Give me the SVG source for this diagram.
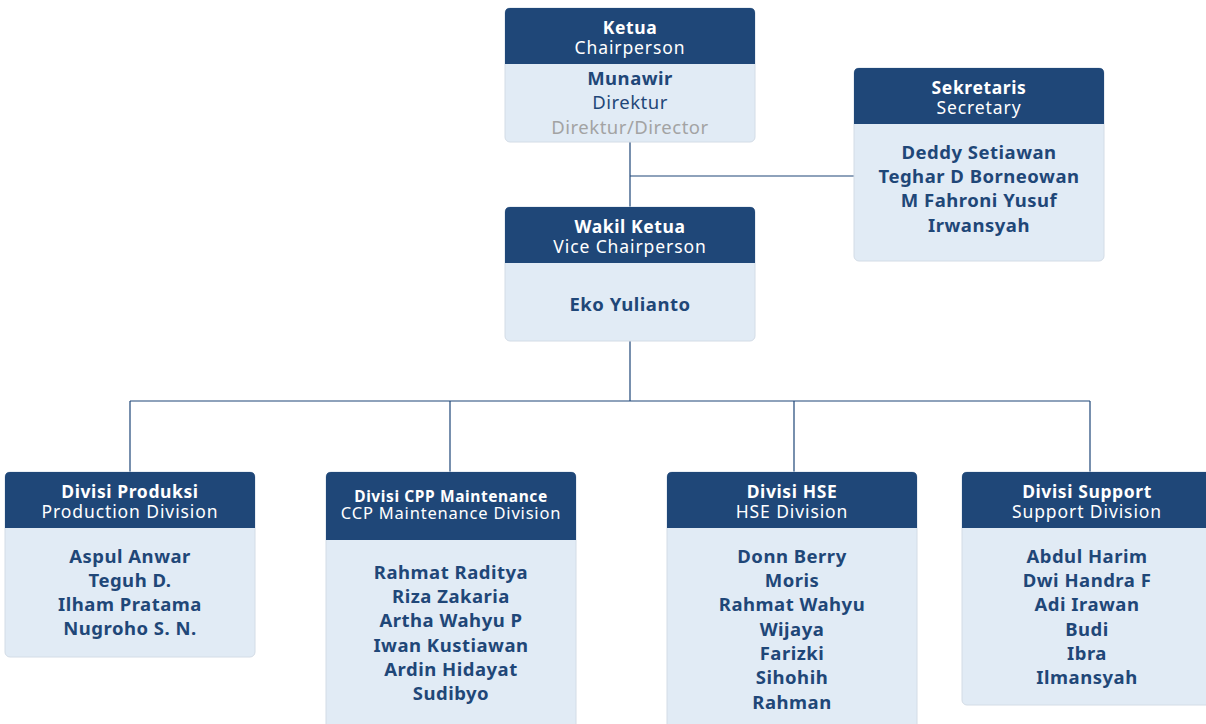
<svg xmlns="http://www.w3.org/2000/svg" width="1206" height="724" viewBox="0 0 1206 724">
<defs>
<style>
.hd{fill:#1f4778}
.bd{fill:#e1ebf5;stroke:#d3dce6;stroke-width:1}
text{font-family:"Noto Sans",Lato,sans-serif;text-anchor:middle}
.t{fill:#fff;font-weight:700;font-size:17.5px;letter-spacing:0.6px}
.s{fill:#fff;font-weight:400;font-size:17.5px;letter-spacing:0.9px}
.n{fill:#1f4778;font-weight:700;font-size:18.5px;letter-spacing:0.5px}
.r{fill:#1f4778;font-weight:400;font-size:18.5px;letter-spacing:0.5px}
.g{fill:#a3a3a3;font-weight:400;font-size:18.5px;letter-spacing:0.5px}
.ln{stroke:#1f4778;stroke-width:1.2;fill:none}
</style>
</defs>
<rect width="1206" height="724" fill="#fff"/>
<g id="connectors">
<path class="ln" d="M630 142V207M630 176H854M630 341V401M130 401H1090M130 401V472M450 401V472M794 401V472M1090 401V472"/>
</g>
<g id="ketua">
<rect class="bd" x="505" y="8" width="250" height="134" rx="5"/>
<path class="hd" d="M510 8H750Q755 8 755 13V64H505V13Q505 8 510 8Z"/>
<text class="t" x="630" y="34">Ketua</text>
<text class="s" x="630" y="54">Chairperson</text>
<text class="n" x="630" y="85">Munawir</text>
<text class="r" x="630" y="109">Direktur</text>
<text class="g" x="630" y="134">Direktur/Director</text>
</g>
<g id="sekretaris">
<rect class="bd" x="854" y="68" width="250" height="193" rx="5"/>
<path class="hd" d="M859 68H1099Q1104 68 1104 73V124H854V73Q854 68 859 68Z"/>
<text class="t" x="979" y="94">Sekretaris</text>
<text class="s" x="979" y="114">Secretary</text>
<text class="n" x="979" y="159">Deddy Setiawan</text>
<text class="n" x="979" y="183">Teghar D Borneowan</text>
<text class="n" x="979" y="207">M Fahroni Yusuf</text>
<text class="n" x="979" y="232">Irwansyah</text>
</g>
<g id="wakil">
<rect class="bd" x="505" y="207" width="250" height="134" rx="5"/>
<path class="hd" d="M510 207H750Q755 207 755 212V263H505V212Q505 207 510 207Z"/>
<text class="t" x="630" y="233">Wakil Ketua</text>
<text class="s" x="630" y="253">Vice Chairperson</text>
<text class="n" x="630" y="311">Eko Yulianto</text>
</g>
<g id="produksi">
<rect class="bd" x="5" y="472" width="250" height="185" rx="5"/>
<path class="hd" d="M10 472H250Q255 472 255 477V528H5V477Q5 472 10 472Z"/>
<text class="t" x="130" y="498">Divisi Produksi</text>
<text class="s" x="130" y="518">Production Division</text>
<text class="n" x="130" y="563">Aspul Anwar</text>
<text class="n" x="130" y="587">Teguh D.</text>
<text class="n" x="130" y="611">Ilham Pratama</text>
<text class="n" x="130" y="635">Nugroho S. N.</text>
</g>
<g id="cpp">
<rect class="bd" x="326" y="472" width="250" height="262" rx="5"/>
<path class="hd" d="M331 472H571Q576 472 576 477V540H326V477Q326 472 331 472Z"/>
<text class="t" x="451" y="502" style="font-size:15.5px;letter-spacing:0.6px">Divisi CPP Maintenance</text>
<text class="s" x="451" y="519" style="font-size:16.5px;letter-spacing:0.8px">CCP Maintenance Division</text>
<text class="n" x="451" y="579">Rahmat Raditya</text>
<text class="n" x="451" y="603">Riza Zakaria</text>
<text class="n" x="451" y="627">Artha Wahyu P</text>
<text class="n" x="451" y="652">Iwan Kustiawan</text>
<text class="n" x="451" y="676">Ardin Hidayat</text>
<text class="n" x="451" y="700">Sudibyo</text>
</g>
<g id="hse">
<rect class="bd" x="667" y="472" width="250" height="262" rx="5"/>
<path class="hd" d="M672 472H912Q917 472 917 477V528H667V477Q667 472 672 472Z"/>
<text class="t" x="792" y="498">Divisi HSE</text>
<text class="s" x="792" y="518">HSE Division</text>
<text class="n" x="792" y="563">Donn Berry</text>
<text class="n" x="792" y="587">Moris</text>
<text class="n" x="792" y="611">Rahmat Wahyu</text>
<text class="n" x="792" y="636">Wijaya</text>
<text class="n" x="792" y="660">Farizki</text>
<text class="n" x="792" y="684">Sihohih</text>
<text class="n" x="792" y="709">Rahman</text>
</g>
<g id="support">
<rect class="bd" x="962" y="472" width="250" height="233" rx="5"/>
<path class="hd" d="M967 472H1207Q1212 472 1212 477V528H962V477Q962 472 967 472Z"/>
<text class="t" x="1087" y="498">Divisi Support</text>
<text class="s" x="1087" y="518">Support Division</text>
<text class="n" x="1087" y="563">Abdul Harim</text>
<text class="n" x="1087" y="587">Dwi Handra F</text>
<text class="n" x="1087" y="611">Adi Irawan</text>
<text class="n" x="1087" y="636">Budi</text>
<text class="n" x="1087" y="660">Ibra</text>
<text class="n" x="1087" y="684">Ilmansyah</text>
</g>
</svg>
